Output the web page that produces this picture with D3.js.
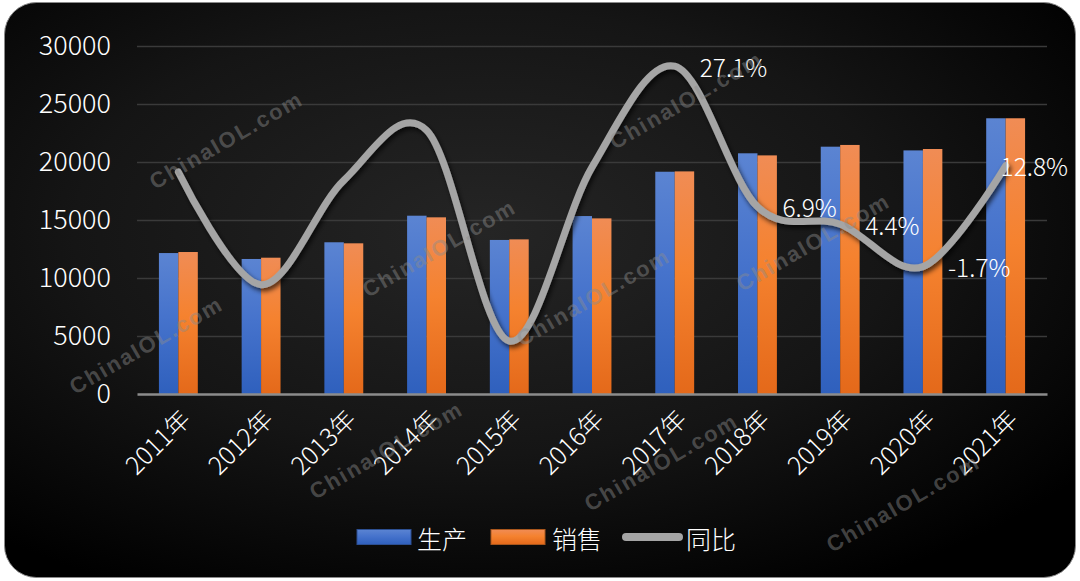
<!DOCTYPE html>
<html>
<head>
<meta charset="utf-8">
<script src="https://cdn.jsdelivr.net/npm/d3@7"></script>
<style>
  html, body { margin: 0; padding: 0; background: #ffffff; }
  svg { display: block; }
</style>
</head>
<body>
<div id="chart"></div>
<script>
// ---------------- data ----------------
const years = ["2011年", "2012年", "2013年", "2014年", "2015年", "2016年",
               "2017年", "2018年", "2019年", "2020年", "2021年"];
const production = [12150, 11640, 13080, 15370, 13280, 15340, 19160, 20750, 21320, 21000, 23770];
const sales      = [12240, 11750, 12990, 15230, 13330, 15140, 19190, 20570, 21470, 21120, 23770];
const growth     = [11.9, -4.3, 10.7, 17.9, -12.4, 12.6, 27.1, 6.9, 4.4, -1.7, 12.8];
const labelYears = ["2017年", "2018年", "2019年", "2020年", "2021年"];
const yTicks = [0, 5000, 10000, 15000, 20000, 25000, 30000];
const seriesNames = ["生产", "销售", "同比"];
const watermark = "ChinaIOL.com";

const W = 1080, H = 581;
const plotLeft = 137, plotRight = 1047, plotTop = 46, plotBottom = 394;
const font = "'Noto Sans CJK SC', 'Noto Sans', sans-serif";

const svg = d3.select("#chart").append("svg")
    .attr("width", W)
    .attr("height", H);

const defs = svg.append("defs");

// card background gradient
const bg = defs.append("radialGradient").attr("id", "bg")
    .attr("cx", "45%").attr("cy", "40%").attr("r", "70%");
bg.append("stop").attr("offset", "0%").attr("stop-color", "#252525");
bg.append("stop").attr("offset", "55%").attr("stop-color", "#151515");
bg.append("stop").attr("offset", "100%").attr("stop-color", "#000000");

function vGrad(id, c1, c2, c3) {
    const g = defs.append("linearGradient").attr("id", id)
        .attr("x1", 0).attr("y1", 0).attr("x2", 0).attr("y2", 1);
    g.append("stop").attr("offset", "0%").attr("stop-color", c1);
    g.append("stop").attr("offset", "45%").attr("stop-color", c2);
    g.append("stop").attr("offset", "100%").attr("stop-color", c3);
}
vGrad("gBlue", "#5b84d2", "#4673cc", "#2f60bd");
vGrad("gOrange", "#f08c55", "#f5822f", "#e4691a");

const shadow = defs.append("filter").attr("id", "shadow")
    .attr("x", "-10%").attr("y", "-10%").attr("width", "120%").attr("height", "130%");
shadow.append("feDropShadow")
    .attr("dx", 2).attr("dy", 3).attr("stdDeviation", 2.5)
    .attr("flood-color", "#000").attr("flood-opacity", 0.7);

svg.append("rect")
    .attr("x", 4.5).attr("y", 2.5)
    .attr("width", 1071).attr("height", 575)
    .attr("rx", 32).attr("ry", 32)
    .attr("fill", "url(#bg)")
    .attr("stroke", "#8a8a8a")
    .attr("stroke-width", 1);

// ---------------- scales ----------------
const x0 = d3.scaleBand().domain(years).range([plotLeft, plotRight])
    .paddingInner(0.53).paddingOuter(0.265);
const x1 = d3.scaleBand().domain([0, 1]).range([0, x0.bandwidth()]);
const y = d3.scaleLinear().domain([0, 30000]).range([plotBottom, plotTop]);
const y2 = d3.scaleLinear().domain([-20, 30]).range([plotBottom, plotTop]);
const cx = d => x0(d) + x0.bandwidth() / 2;

// gridlines
svg.append("g")
    .attr("transform", `translate(${plotLeft},0)`)
    .call(d3.axisLeft(y).tickValues(yTicks.slice(1)).tickSize(-(plotRight - plotLeft)).tickFormat(""))
    .call(g => g.select(".domain").remove())
    .call(g => g.selectAll("line").attr("stroke", "#3a3a3a").attr("stroke-width", 1.5));

// y axis labels
svg.append("g")
    .attr("transform", "translate(111,0)")
    .call(d3.axisLeft(y).tickValues(yTicks).tickSize(0).tickPadding(0).tickFormat(d3.format("d")))
    .call(g => g.select(".domain").remove())
    .call(g => g.selectAll("text")
        .attr("fill", "#ffffff")
        .attr("font-family", font)
        .attr("font-weight", 300)
        .attr("font-size", 27));

// bars
const rows = years.map((yr, i) => ({ year: yr, vals: [production[i], sales[i]] }));
const groups = svg.append("g").selectAll("g")
    .data(rows)
    .enter()
    .append("g")
    .attr("transform", d => `translate(${x0(d.year)},0)`);

groups.selectAll("rect")
    .data(d => d.vals.map((v, k) => ({ k: k, v: v })))
    .enter()
    .append("rect")
    .attr("x", d => x1(d.k))
    .attr("y", d => y(d.v))
    .attr("width", x1.bandwidth())
    .attr("height", d => plotBottom - y(d.v))
    .attr("fill", d => d.k === 0 ? "url(#gBlue)" : "url(#gOrange)");

// x axis line
svg.append("g")
    .attr("transform", `translate(0,${plotBottom})`)
    .call(d3.axisBottom(x0).tickSize(0).tickFormat(""))
    .call(g => g.select(".domain").attr("stroke", "#8c8c8c").attr("stroke-width", 2.5));

// x labels
svg.append("g").selectAll("text")
    .data(years)
    .enter()
    .append("text")
    .attr("transform", d => `translate(${cx(d) + 6},${plotBottom + 19}) rotate(-45)`)
    .attr("text-anchor", "end")
    .attr("dominant-baseline", "central")
    .attr("fill", "#ffffff")
    .attr("font-family", font)
    .attr("font-weight", 300)
    .attr("font-size", 25)
    .text(d => d);

// growth line
const pts = years.map((yr, i) => ({ year: yr, v: growth[i] }));
const line = d3.line()
    .x(d => cx(d.year))
    .y(d => y2(d.v))
    .curve(d3.curveCardinal.tension(0));

svg.append("path")
    .datum(pts)
    .attr("d", line)
    .attr("fill", "none")
    .attr("stroke", "#a5a5a5")
    .attr("stroke-width", 7)
    .attr("stroke-linecap", "round")
    .attr("filter", "url(#shadow)");

// growth labels
svg.append("g").selectAll("text")
    .data(pts.filter(d => labelYears.includes(d.year)))
    .enter()
    .append("text")
    .attr("x", d => cx(d.year) + 25)
    .attr("y", d => y2(d.v))
    .attr("dominant-baseline", "central")
    .attr("fill", "#ffffff")
    .attr("font-family", font)
    .attr("font-weight", 300)
    .attr("font-size", 24.5)
    .text(d => d.v.toFixed(1) + "%")
    .each(function () {
        const w = this.getComputedTextLength();
        const xx = +this.getAttribute("x");
        if (xx + w > 1068) this.setAttribute("x", 1068 - w);
    });

// legend
const legend = svg.append("g").attr("transform", "translate(0,537)");
const lx = [357, 491, 622];
legend.append("rect").attr("x", lx[0]).attr("y", -7.5).attr("width", 54).attr("height", 15)
    .attr("fill", "url(#gBlue)").attr("stroke", "#2c4f92").attr("stroke-width", 1);
legend.append("rect").attr("x", lx[1]).attr("y", -7.5).attr("width", 54).attr("height", 15)
    .attr("fill", "url(#gOrange)").attr("stroke", "#a9561c").attr("stroke-width", 1);
legend.append("line").attr("x1", lx[2] + 4).attr("x2", lx[2] + 57).attr("y1", 0).attr("y2", 0)
    .attr("stroke", "#a5a5a5").attr("stroke-width", 8).attr("stroke-linecap", "round");
legend.selectAll("text.leg")
    .data(seriesNames)
    .enter()
    .append("text")
    .attr("class", "leg")
    .attr("x", (d, i) => [417, 552, 686][i])
    .attr("y", 1)
    .attr("dominant-baseline", "central")
    .attr("fill", "#ffffff")
    .attr("font-family", font)
    .attr("font-weight", 300)
    .attr("font-size", 25)
    .text(d => d);

// watermarks
const wmPos = [[155, 190], [368, 298], [615, 150], [75, 395], [522, 347],
               [742, 292], [315, 500], [590, 512], [832, 553]];
svg.append("g").selectAll("text")
    .data(wmPos)
    .enter()
    .append("text")
    .attr("transform", d => `translate(${d[0]},${d[1]}) rotate(-30)`)
    .attr("fill", "#8c8c8c")
    .attr("fill-opacity", 0.45)
    .attr("font-family", "'Liberation Sans', Arial, sans-serif")
    .attr("font-weight", "bold")
    .attr("font-size", 22)
    .attr("letter-spacing", 2)
    .text(watermark);
</script>
</body>
</html>
